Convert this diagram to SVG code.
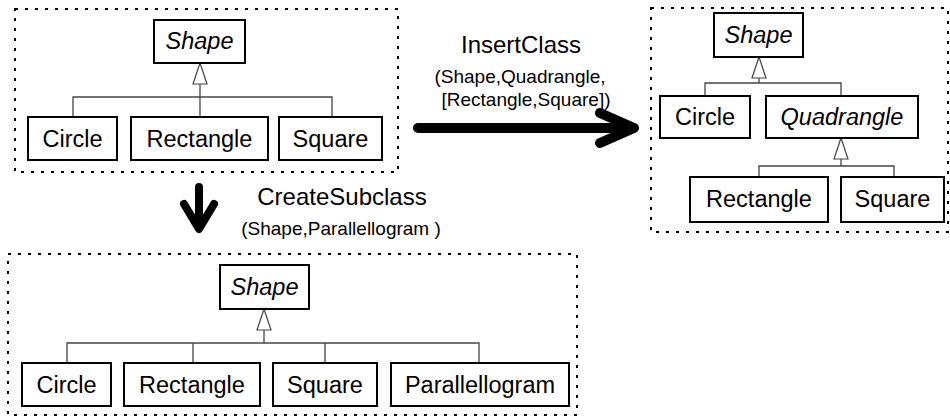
<svg xmlns="http://www.w3.org/2000/svg" width="950" height="418" viewBox="0 0 950 418">
<style>
.frame{fill:none;stroke:#000;stroke-width:2;stroke-dasharray:3 7}
.box{fill:#fff;stroke:#000;stroke-width:2}
.lbl{font-family:"Liberation Sans",Arial,sans-serif;font-size:23.5px;fill:#000;text-anchor:middle}
.it{font-style:italic}
.conn{fill:none;stroke:#444;stroke-width:1.3}
.tri{fill:#fff;stroke:#444;stroke-width:1.2}
.big{fill:none;stroke:#000;stroke-linecap:round;stroke-linejoin:round}
.title{font-family:"Liberation Sans",Arial,sans-serif;font-size:24px;fill:#000;text-anchor:middle}
.param{font-family:"Liberation Sans",Arial,sans-serif;font-size:19px;fill:#000;text-anchor:middle}
</style>
<defs>
<path id="tri" d="M0,0 L7,21 L-7,21 Z"/>
</defs>

<!-- Frames -->
<rect class="frame" x="15" y="9" width="383" height="163"/>
<rect class="frame" x="651" y="8" width="297" height="224"/>
<rect class="frame" x="8" y="254" width="569" height="161"/>

<!-- Connectors -->
<g id="connectors">
  <path class="conn" d="M73,117 V97 H332 V117 M200,84 V117"/>
  <use href="#tri" class="tri" x="200" y="63"/>
  <path class="conn" d="M705,96 V83 H841 V96 M759,78 V83"/>
  <use href="#tri" class="tri" x="759" y="57"/>
  <path class="conn" d="M759,177 V166 H894 V177 M841,159 V166"/>
  <use href="#tri" class="tri" x="841" y="138"/>
  <path class="conn" d="M67,363 V343 H479 V363 M193,343 V363 M325,343 V363 M264,330 V343"/>
  <use href="#tri" class="tri" x="264" y="309"/>
  <path class="big" stroke-width="10" d="M418,128 H630 M600,113 L634,128 L600,143"/>
  <path class="big" stroke-width="8" d="M199,187 V228 M184,204 L199,229 L214,204"/>
</g>

<!-- Transformation labels -->
<text class="title" x="521" y="53">InsertClass</text>
<text class="param" x="520" y="83">(Shape,Quadrangle,</text>
<text class="param" x="526" y="106">[Rectangle,Square])</text>
<text class="title" x="342" y="205">CreateSubclass</text>
<text class="param" x="341" y="235">(Shape,Parallellogram )</text>

<!-- Top-left diagram -->
<g id="tl-shape"><rect class="box" x="154" y="20" width="91" height="43"/><text class="lbl it" x="199.5" y="49">Shape</text></g>
<g id="tl-circle"><rect class="box" x="28" y="117" width="89" height="43"/><text class="lbl" x="72.5" y="147">Circle</text></g>
<g id="tl-rectangle"><rect class="box" x="131" y="117" width="137" height="43"/><text class="lbl" x="199.5" y="147">Rectangle</text></g>
<g id="tl-square"><rect class="box" x="279" y="117" width="103" height="43"/><text class="lbl" x="330.5" y="147">Square</text></g>

<!-- Right diagram -->
<g id="r-shape"><rect class="box" x="714" y="13" width="89" height="44"/><text class="lbl it" x="758.5" y="43">Shape</text></g>
<g id="r-circle"><rect class="box" x="660" y="96" width="90" height="42"/><text class="lbl" x="705" y="125">Circle</text></g>
<g id="r-quadrangle"><rect class="box" x="766" y="96" width="152" height="42"/><text class="lbl it" x="842" y="125">Quadrangle</text></g>
<g id="r-rectangle"><rect class="box" x="690" y="177" width="138" height="45"/><text class="lbl" x="759" y="207">Rectangle</text></g>
<g id="r-square"><rect class="box" x="841" y="177" width="103" height="45"/><text class="lbl" x="892.5" y="207">Square</text></g>

<!-- Bottom diagram -->
<g id="b-shape"><rect class="box" x="220" y="265" width="89" height="44"/><text class="lbl it" x="264.5" y="295">Shape</text></g>
<g id="b-circle"><rect class="box" x="22" y="363" width="89" height="43"/><text class="lbl" x="66.5" y="393">Circle</text></g>
<g id="b-rectangle"><rect class="box" x="124" y="363" width="136" height="43"/><text class="lbl" x="192" y="393">Rectangle</text></g>
<g id="b-square"><rect class="box" x="273" y="363" width="104" height="43"/><text class="lbl" x="325" y="393">Square</text></g>
<g id="b-parallellogram"><rect class="box" x="391" y="363" width="178" height="43"/><text class="lbl" x="480" y="393">Parallellogram</text></g>
</svg>
